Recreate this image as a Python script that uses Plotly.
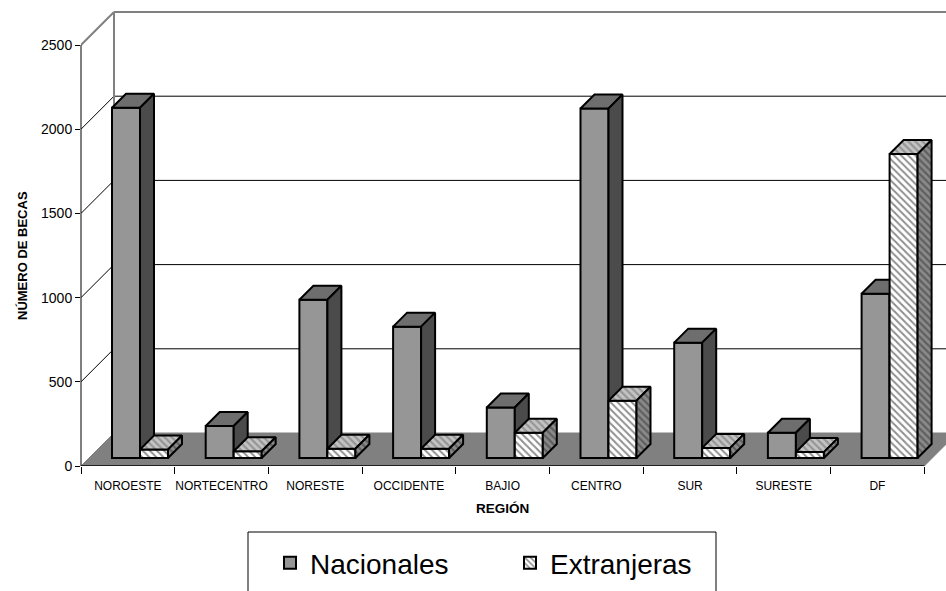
import plotly.graph_objects as go

# ---------------- data ----------------
regions = ["NOROESTE", "NORTECENTRO", "NORESTE", "OCCIDENTE", "BAJIO",
           "CENTRO", "SUR", "SURESTE", "DF"]
nacionales = [2080, 190, 940, 780, 300, 2075, 685, 150, 975]
extranjeras = [50, 40, 55, 55, 150, 340, 60, 35, 1805]
y_ticks = [0, 500, 1000, 1500, 2000, 2500]
series_names = ["Nacionales", "Extranjeras"]

# ---------------- geometry (pixels) ----------------
W, H = 946, 591
ML, MR, MT, MB = 81, 0, 0, 125
PW = W - ML - MR
PH = H - MT - MB
CAT_PX = 93.7                 # px per category on the front edge
UY = (466 - 45) / 2500.0      # px per value unit
XR = PW / CAT_PX
YR = PH / UY
WALL_D = 33                   # depth of floor / walls (px)
BAR_D0 = 8                    # depth of bar front face (px)
BAR_DEPTH = 14                # bar thickness in depth (px)
BAR_GAP = 23 / CAT_PX
BAR_W = 28 / CAT_PX
FONT = "Liberation Sans, Arial, sans-serif"
YMAX = max(y_ticks)


def P(xc, v, d):
    """oblique projection: depth d (px) shifts right and up"""
    return xc + d / CAT_PX, v + d / UY


def faces(values, s):
    tx, ty, sx, sy = [], [], [], []
    for i, v in enumerate(values):
        xl = i + BAR_GAP + s * BAR_W
        xr = xl + BAR_W
        d0, d1 = BAR_D0, BAR_D0 + BAR_DEPTH
        top = [P(xl, v, d0), P(xr, v, d0), P(xr, v, d1), P(xl, v, d1), P(xl, v, d0)]
        side = [P(xr, 0, d0), P(xr, v, d0), P(xr, v, d1), P(xr, 0, d1), P(xr, 0, d0)]
        for (px, py) in top:
            tx.append(px); ty.append(py)
        tx.append(None); ty.append(None)
        for (px, py) in side:
            sx.append(px); sy.append(py)
        sx.append(None); sy.append(None)
    return tx, ty, sx, sy


def bar_centers(s):
    return [i + BAR_GAP + s * BAR_W + BAR_W / 2 + BAR_D0 / CAT_PX
            for i in range(len(regions))]


fig = go.Figure()
base = [BAR_D0 / UY] * len(regions)

# ---- Nacionales (layer 1: x / y) ----
fig.add_trace(go.Bar(
    x=bar_centers(0), y=nacionales, base=base, width=BAR_W,
    name=series_names[0], legend="legend",
    marker=dict(color="#969696", line=dict(color="black", width=2)),
    xaxis="x", yaxis="y", hoverinfo="skip"))
tx, ty, sx, sy = faces(nacionales, 0)
fig.add_trace(go.Scatter(x=tx, y=ty, mode="lines", fill="toself",
                         fillcolor="#6e6e6e", line=dict(color="black", width=2),
                         showlegend=False, hoverinfo="skip", xaxis="x", yaxis="y"))
fig.add_trace(go.Scatter(x=sx, y=sy, mode="lines", fill="toself",
                         fillcolor="#4b4b4b", line=dict(color="black", width=2),
                         showlegend=False, hoverinfo="skip", xaxis="x", yaxis="y"))

# ---- Extranjeras (layer 2: x2 / y2, drawn over layer 1) ----
fig.add_trace(go.Bar(
    x=bar_centers(1), y=extranjeras, base=base, width=BAR_W,
    name=series_names[1], legend="legend2",
    marker=dict(color="white", line=dict(color="black", width=2),
                pattern=dict(shape="\\", bgcolor="white", fgcolor="#202020",
                             size=5, solidity=0.4)),
    xaxis="x2", yaxis="y2", hoverinfo="skip"))
tx, ty, sx, sy = faces(extranjeras, 1)
fig.add_trace(go.Scatter(x=tx, y=ty, mode="lines", fill="toself",
                         fillcolor="#c4c4c4",
                         fillpattern=dict(shape="\\", bgcolor="#c4c4c4", fgcolor="#666666",
                                          size=5, solidity=0.45),
                         line=dict(color="black", width=2),
                         showlegend=False, hoverinfo="skip", xaxis="x2", yaxis="y2"))
fig.add_trace(go.Scatter(x=sx, y=sy, mode="lines", fill="toself",
                         fillcolor="#8a8a8a",
                         fillpattern=dict(shape="\\", bgcolor="#8a8a8a", fgcolor="#333333",
                                          size=5, solidity=0.45),
                         line=dict(color="black", width=2),
                         showlegend=False, hoverinfo="skip", xaxis="x2", yaxis="y2"))

# ---------------- walls / floor (shapes below traces) ----------------
shapes = []
n = len(regions)
floor_pts = [P(0, 0, 0), P(n, 0, 0), P(n, 0, WALL_D), P(0, 0, WALL_D)]
path = "M " + " L ".join(f"{a},{b}" for a, b in floor_pts) + " Z"
shapes.append(dict(type="path", path=path, xref="x", yref="y", layer="below",
                   fillcolor="#808080", line=dict(color="#808080", width=1)))
# floor front edge
shapes.append(dict(type="line", xref="x", yref="y", x0=0, x1=n, y0=0, y1=0,
                   layer="below", line=dict(color="black", width=1.5)))
# gridlines on side wall and back wall
for v in y_ticks[1:-1]:
    a = P(0, v, 0); b = P(0, v, WALL_D)
    shapes.append(dict(type="line", xref="x", yref="y", x0=a[0], y0=a[1], x1=b[0], y1=b[1],
                       layer="below", line=dict(color="black", width=1)))
    shapes.append(dict(type="line", xref="x", yref="y", x0=b[0], y0=b[1], x1=XR + 1, y1=b[1],
                       layer="below", line=dict(color="black", width=1)))
# wall frame (gray)
a = P(0, YMAX, 0); b = P(0, YMAX, WALL_D); c = P(0, 0, WALL_D)
shapes.append(dict(type="line", xref="x", yref="y", x0=a[0], y0=a[1], x1=b[0], y1=b[1],
                   layer="below", line=dict(color="#808080", width=2)))
shapes.append(dict(type="line", xref="x", yref="y", x0=b[0], y0=b[1], x1=XR + 1, y1=b[1],
                   layer="below", line=dict(color="#808080", width=2)))
shapes.append(dict(type="line", xref="x", yref="y", x0=c[0], y0=c[1], x1=b[0], y1=b[1],
                   layer="below", line=dict(color="#808080", width=2)))
# value axis line
shapes.append(dict(type="line", xref="paper", yref="y", x0=0, x1=0, y0=0, y1=YMAX,
                   layer="above", line=dict(color="black", width=1)))
# legend box
shapes.append(dict(type="rect", xref="paper", yref="paper",
                   x0=(248 - ML) / PW, x1=(716 - ML) / PW,
                   y0=(466 - 532) / PH, y1=(466 - 605) / PH,
                   line=dict(color="black", width=1), fillcolor="rgba(0,0,0,0)"))

fig.update_layout(
    width=W, height=H, autosize=False,
    margin=dict(l=ML, r=MR, t=MT, b=MB, pad=0),
    paper_bgcolor="white", plot_bgcolor="white",
    hovermode=False, barmode="overlay",
    font=dict(family=FONT, color="black"),
    shapes=shapes,
    xaxis=dict(range=[0, XR], tickvals=[i + 0.5 for i in range(n)], ticktext=regions,
               ticks="outside", ticklen=9, tickcolor="rgba(0,0,0,0)",
               tickfont=dict(size=12, family=FONT, color="black"),
               showgrid=False, zeroline=False, showline=False, fixedrange=True),
    xaxis2=dict(range=[0, XR], overlaying="x", anchor="y2", side="bottom",
                tickvals=list(range(n + 1)), ticks="outside", ticklen=7,
                tickcolor="black", tickwidth=1, showticklabels=False,
                showgrid=False, zeroline=False, showline=False, fixedrange=True),
    yaxis=dict(range=[0, YR], tickvals=y_ticks, ticks="outside", ticklen=5,
               tickcolor="black", tickfont=dict(size=14, family=FONT, color="black"),
               showgrid=False, zeroline=False, showline=False, fixedrange=True),
    yaxis2=dict(range=[0, YR], overlaying="y", visible=False, fixedrange=True),
    legend=dict(x=(270 - ML) / PW, y=(466 - 563) / PH, xanchor="left", yanchor="middle",
                orientation="h", bgcolor="rgba(0,0,0,0)", borderwidth=0,
                font=dict(size=28, family=FONT, color="black")),
    legend2=dict(x=(510 - ML) / PW, y=(466 - 563) / PH, xanchor="left", yanchor="middle",
                 orientation="h", bgcolor="rgba(0,0,0,0)", borderwidth=0,
                 font=dict(size=28, family=FONT, color="black")),
    annotations=[
        dict(text="<b>NÚMERO DE BECAS</b>", xref="paper", yref="paper",
             x=(22 - ML) / PW, y=(466 - 256) / PH, textangle=-90, showarrow=False,
             xanchor="center", yanchor="middle", font=dict(size=13, family=FONT)),
        dict(text="<b>REGIÓN</b>", xref="paper", yref="paper",
             x=(502 - ML) / PW, y=(466 - 508) / PH, showarrow=False,
             xanchor="center", yanchor="middle", font=dict(size=13.5, family=FONT)),
    ],
)

fig.write_html("out.html")
